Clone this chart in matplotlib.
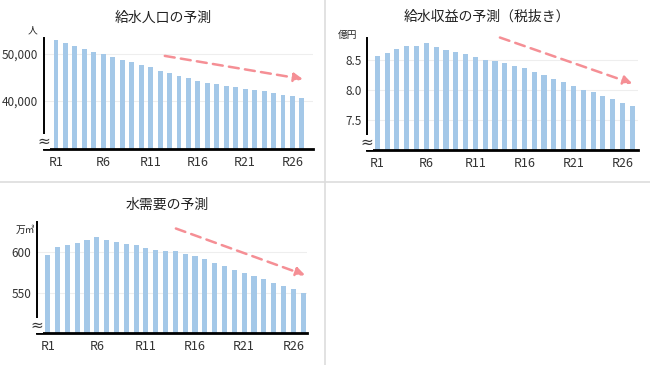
import matplotlib
matplotlib.use('Agg')
import matplotlib.pyplot as plt
from matplotlib.lines import Line2D

plt.rcParams['font.family'] = ['Noto Sans CJK JP', 'DejaVu Sans']

# R1 .. R27
years = ['R%d' % i for i in range(1, 28)]
tick_labels = ['R1', 'R6', 'R11', 'R16', 'R21', 'R26']

population = [53020, 52330, 51650, 51100, 50410, 50000, 49450, 48770, 48220,
              47670, 47120, 46430, 45890, 45340, 44790, 44170, 43830, 43550,
              43140, 42870, 42590, 42320, 42040, 41700, 41360, 41080, 40670]
revenue = [8.57, 8.62, 8.68, 8.74, 8.74, 8.78, 8.72, 8.67, 8.63, 8.61, 8.55,
           8.50, 8.48, 8.46, 8.40, 8.37, 8.31, 8.25, 8.19, 8.13, 8.07, 8.01,
           7.97, 7.90, 7.85, 7.79, 7.73]
demand = [596.3, 606.6, 608.2, 611.1, 614.8, 618.0, 614.8, 612.3, 610.2, 609.0,
          604.9, 602.5, 601.2, 601.2, 597.5, 595.1, 591.4, 586.9, 582.4, 578.3,
          574.2, 570.1, 566.4, 561.9, 557.8, 554.1, 550.0]

BAR = '#a4c8e8'
ARROW = '#f58f95'

W, H = 650, 365
fig = plt.figure(figsize=(6.5, 3.65), dpi=100)


def rect(l, r, b, t):
    return [l / W, (H - b) / H, (r - l) / W, (b - t) / H]


def panel(box, values, xlim, ylim, yticks, yticklabels, title, title_xy,
          unit, unit_xy, arrow_from, arrow_to):
    ax = fig.add_axes(rect(*box))
    x = list(range(len(values)))
    ax.bar(x, values, width=0.52, color=BAR, zorder=2)
    ax.set_xlim(*xlim)
    ax.set_ylim(*ylim)
    ax.set_xticks([years.index(t) for t in tick_labels])
    ax.set_xticklabels(tick_labels)
    ax.set_yticks(yticks)
    ax.set_yticklabels(yticklabels)
    ax.tick_params(length=0, labelsize=8.5, colors='#333333', pad=4)
    ax.tick_params(axis='x', labelsize=9, pad=5)
    ax.grid(axis='y', color='#eeeeee', lw=0.8, zorder=0)
    for s in ['top', 'right']:
        ax.spines[s].set_visible(False)
    ax.spines['left'].set_linewidth(1.4)
    ax.spines['bottom'].set_linewidth(2.0)
    # axis break mark
    ax.text(0, 0.07, '≈', transform=ax.transAxes, ha='center', va='center',
            fontsize=11, color='#333333', family='DejaVu Sans',
            bbox=dict(facecolor='white', edgecolor='none', pad=0), zorder=5)
    ax.annotate('', xy=arrow_to, xytext=arrow_from, annotation_clip=False,
                arrowprops=dict(arrowstyle='-|>', color=ARROW, lw=1.8,
                                ls=(0, (4, 2.5)), mutation_scale=13,
                                shrinkA=0, shrinkB=0))
    fig.text(title_xy[0] / W, 1 - title_xy[1] / H, title, ha='center',
             va='center', fontsize=10, color='#222222')
    fig.text(unit_xy[0] / W, 1 - unit_xy[1] / H, unit, ha='center',
             va='center', fontsize=7, color='#222222')
    return ax


panel((44, 313, 149, 38), population, (-1.27, 27.17), (29770, 53400),
      [40000, 50000], ['40,000', '50,000'], '給水人口の予測', (163, 18),
      '人', (33, 30), (11.5, 49590), (26.1, 44650))

panel((367, 638, 150, 38), revenue, (-1.05, 26.58), (7.0, 8.87),
      [7.5, 8.0, 8.5], ['7.5', '8.0', '8.5'], '給水収益の予測（税抜き）',
      (487, 17), '億円', (348, 35), (12.5, 8.878), (26.0, 8.11))

panel((37, 307, 333, 222), demand, (-1.09, 26.4), (500.5, 637),
      [550, 600], ['550', '600'], '水需要の予測', (167, 205),
      '万㎥', (25, 230), (13.05, 629), (26.2, 571.7))

# panel borders
fig.add_artist(Line2D([325 / W, 325 / W], [0, 1], color='#dddddd', lw=1.2))
fig.add_artist(Line2D([0, 1], [1 - 182 / H, 1 - 182 / H], color='#dddddd', lw=1.2))

fig.savefig('out.png', dpi=100, facecolor='white')
